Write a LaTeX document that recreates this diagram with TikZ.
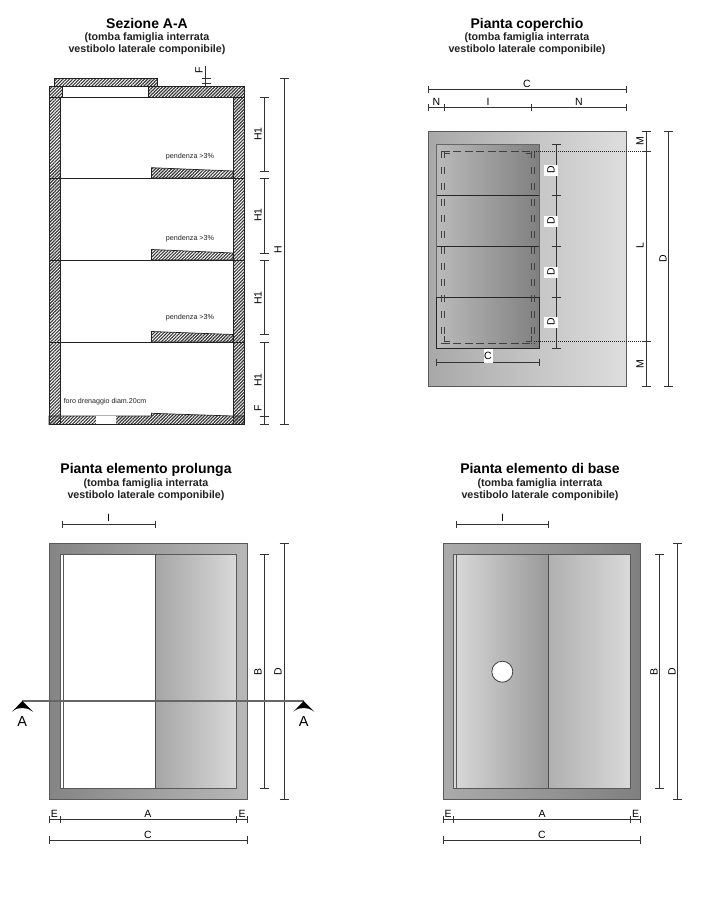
\documentclass[tikz,border=0pt]{standalone}
\usepackage{fontspec}
\setmainfont{Liberation Sans}
\usetikzlibrary{patterns.meta}
\definecolor{ink}{HTML}{222222}
\definecolor{dimc}{HTML}{333333}
\tikzset{
  hatch/.style={draw=ink,line width=.7pt,pattern={Lines[angle=45,distance=2.3pt,line width=1.15pt]},pattern color=black!78},
  dimline/.style={draw=dimc,line width=.95pt},
  ttl/.style={font=\fontsize{14}{14}\selectfont\bfseries,text=black,inner sep=0pt},
  subttl/.style={font=\fontsize{10.7}{11}\selectfont\bfseries,text=ink,inner sep=0pt},
  lab/.style={font=\fontsize{10.5}{11}\selectfont,text=black,inner sep=0pt},
  vlab/.style={lab,rotate=90},
  wlab/.style={vlab,fill=white,minimum width=11pt,minimum height=14pt},
  note/.style={font=\fontsize{7.2}{8}\selectfont,text=ink,inner sep=0pt},
  wall/.style={draw=ink,line width=.8pt},
  planedge/.style={draw=black!65,line width=.9pt},
  dash1/.style={draw=black!75,line width=.95pt,dash pattern=on 8pt off 3.5pt},
  dash2/.style={draw=black!75,line width=.95pt,dash pattern=on 7pt off 9pt},
  dotl/.style={draw=ink,line width=.9pt,dash pattern=on 1pt off 1pt},
  cutline/.style={draw=black!60,line width=1.3pt},
  cuthead/.style={fill=black,draw=none},
}
% horizontal / vertical dimension lines with end ticks
\newcommand{\hdim}[4][3.5]{\draw[dimline] (#2,#4) -- (#3,#4);\draw[dimline] (#2,#4-#1) -- (#2,#4+#1) (#3,#4-#1) -- (#3,#4+#1);}
\newcommand{\vdim}[4][4.5]{\draw[dimline] (#4,#2) -- (#4,#3);\draw[dimline] (#4-#1,#2) -- (#4+#1,#2) (#4-#1,#3) -- (#4+#1,#3);}
\begin{document}
\begin{tikzpicture}[x=1pt,y=-1pt]
\useasboundingbox (0,0) rectangle (705,900);
\fill[white] (0,0) rectangle (705,900);

% ---------- titles
\node[ttl] (t1) at (147,23) {Sezione A-A};
\node[subttl] (t1a) at (147,37.5) {(tomba famiglia interrata};
\node[subttl] (t1b) at (147,49.5) {vestibolo laterale componibile)};
\node[ttl] (t2) at (527,24.8) {Pianta coperchio};
\node[subttl] (t2a) at (527,37.5) {(tomba famiglia interrata};
\node[subttl] (t2b) at (527,49.5) {vestibolo laterale componibile)};
\node[ttl] (t3) at (146,470) {Pianta elemento prolunga};
\node[subttl] (t3a) at (146,483.5) {(tomba famiglia interrata};
\node[subttl] (t3b) at (146,495.5) {vestibolo laterale componibile)};
\node[ttl] (t4) at (540,468) {Pianta elemento di base};
\node[subttl] (t4a) at (540,483.5) {(tomba famiglia interrata};
\node[subttl] (t4b) at (540,495.5) {vestibolo laterale componibile)};

% ---------- Sezione A-A
\path[hatch] (54.3,78.7) rectangle (157,86);
\path[hatch] (49,86) rectangle (62.7,97);
\path[hatch] (148.7,86) rectangle (244,97);
\path[hatch] (49,97) rectangle (60,424.5);
\path[hatch] (233,97) rectangle (244,424.5);
\draw[wall] (62.7,97) -- (148.7,97);
\path[hatch] (151.5,167.7) -- (233,171) -- (233,178) -- (151.5,178) -- cycle;
\path[hatch] (151.5,249.5) -- (233,253) -- (233,260) -- (151.5,260) -- cycle;
\path[hatch] (151.5,331.5) -- (233,334.5) -- (233,342) -- (151.5,342) -- cycle;
\path[hatch] (49,416) -- (151.5,416) -- (151.5,413.3) -- (233,416) -- (244,416) -- (244,424.5) -- (49,424.5) -- cycle;
\fill[white] (95.7,416.3) rectangle (115.7,424.2);
\draw[wall] (49,178) -- (244,178) (49,260) -- (244,260) (49,342) -- (244,342);
\node[note] (p1) at (190,157) {pendenza >3\%};
\node[note] (p2) at (190,239) {pendenza >3\%};
\node[note] (p3) at (190,318) {pendenza >3\%};
\node[note,font=\fontsize{7.1}{8}\selectfont] (foro) at (105,402) {foro drenaggio diam.20cm};

\draw[dimline] (205.5,66) -- (205.5,86);
\draw[dimline] (201.5,78.7) -- (210.5,78.7) (201.5,83) -- (210.5,83);
\node[vlab] (fa) at (199,70) {F};
\vdim{97}{171}{264}
\vdim{178}{253}{264}
\vdim{260}{334}{264}
\vdim{342}{416.5}{264}
\vdim{416.5}{424.5}{264}
\node[vlab] (h1a) at (258,134) {H1};
\node[vlab] (h1b) at (258,215) {H1};
\node[vlab] (h1c) at (258,298) {H1};
\node[vlab] (h1d) at (258,380) {H1};
\node[vlab] (fb) at (258,408) {F};
\vdim{78.7}{424.5}{284}
\node[vlab] (hh) at (278,250) {H};

% ---------- Pianta coperchio
\shade[left color=black!34,right color=black!13] (428.5,131.7) rectangle (626,386.7);
\draw[planedge] (428.5,131.7) rectangle (626,386.7);
\shade[left color=black!27,right color=black!50] (436.7,144) rectangle (539.3,348.7);
\draw[planedge,draw=black!60] (436.7,144) rectangle (539.3,297.7);
\draw[draw=black!85,line width=1pt] (436.7,297.7) rectangle (539.3,348.7);
\draw[draw=black!85,line width=.8pt] (436.7,195.7) -- (539.3,195.7) (436.7,246.3) -- (539.3,246.3);
\draw[dash1] (441.7,151) -- (534.3,151);
\draw[dash1] (441.7,343.5) -- (534.3,343.5);
\draw[draw=black!75,line width=.95pt] (444.7,158) -- (444.7,153) -- (450,153) (531.3,158) -- (531.3,153) -- (526,153);
\draw[draw=black!75,line width=.95pt] (444.7,336) -- (444.7,341) -- (450,341) (531.3,336) -- (531.3,341) -- (526,341);
\foreach \xx in {441.7,444.7,531.3,534.3}{
  \draw[dash2] (\xx,151) -- (\xx,343.5);
}
\draw[dotl] (534.3,151.7) -- (650.5,151.7);
\draw[dotl] (534.3,341) -- (650.5,341);

\vdim{144}{195.7}{556}
\vdim{195.7}{246.3}{556}
\vdim{246.3}{297.7}{556}
\vdim{297.7}{348.7}{556}
\node[wlab] (da) at (551,170) {D};
\node[wlab] (db) at (551,221) {D};
\node[wlab] (dc) at (551,272) {D};
\node[wlab] (dd) at (551,322) {D};
\hdim{436.7}{539.3}{362}
\node[lab,fill=white,minimum width=9pt,minimum height=14pt] (cc) at (488,356) {C};

\hdim[3.5]{428.5}{626}{89.7}
\node[lab] (ca) at (527,84) {C};
\draw[dimline] (428.5,107.3) -- (626,107.3);
\draw[dimline] (428.5,103.5) -- (428.5,111) (444.7,103.5) -- (444.7,111) (531.7,103.5) -- (531.7,111) (626,103.5) -- (626,111);
\node[lab] (na) at (436.5,102) {N};
\node[lab] (ia) at (488,102) {I};
\node[lab] (nb) at (579,102) {N};

\vdim{131.7}{386.7}{646}
\draw[dimline] (641.5,151.7) -- (650.5,151.7) (641.5,341) -- (650.5,341);
\node[vlab] (ma) at (640,141.5) {M};
\node[vlab] (ll) at (640,246) {L};
\node[vlab] (mb) at (640,364) {M};
\vdim{131.7}{386.7}{668}
\node[vlab] (dl) at (663,259) {D};

% ---------- Pianta elemento prolunga
\shade[left color=black!48,right color=black!28] (49.5,543.3) rectangle (247.5,799);
\draw[planedge] (49.5,543.3) rectangle (247.5,799);
\fill[white] (60,554) rectangle (155,788.7);
\shade[left color=black!35,right color=black!15] (155,554) rectangle (236.7,788.7);
\draw[planedge] (60,554) rectangle (236.7,788.7);
\draw[draw=black!65,line width=.8pt] (63,554) -- (63,788.7);
\draw[draw=black!70,line width=1pt] (155,554) -- (155,788.7);
\hdim{62.7}{155}{524}
\node[lab] (ib) at (108.5,518) {I};
\vdim{554}{788.7}{264}
\vdim{543.3}{799}{284}
\node[vlab] (bb) at (258,672) {B};
\node[vlab] (dp) at (278,672) {D};
\hdim{49.5}{60}{819.7}
\hdim{60}{236.7}{819.7}
\hdim{236.7}{247.5}{819.7}
\hdim[4]{49.5}{247.5}{840}
\node[lab] (ea) at (54.5,814) {E};
\node[lab] (aa) at (148,814) {A};
\node[lab] (eb) at (242,814) {E};
\node[lab] (cd) at (148,834.5) {C};
% section line A-A
\draw[cutline] (22.3,701) -- (303.7,701);
\fill[cuthead] (22.3,701) -- (33,711.7) .. controls (28,708.5) and (26,708) .. (22.3,708) .. controls (18.5,708) and (16,708.5) .. (12,711.7) -- cycle;
\fill[cuthead] (303.7,701) -- (314.4,711.7) .. controls (309.4,708.5) and (307.4,708) .. (303.7,708) .. controls (299.9,708) and (297.4,708.5) .. (293.4,711.7) -- cycle;
\node[lab,font=\fontsize{14.5}{15}\selectfont] (sa) at (22.3,722) {A};
\node[lab,font=\fontsize{14.5}{15}\selectfont] (sb) at (303.7,722) {A};

% ---------- Pianta elemento di base
\shade[left color=black!33,right color=black!50] (443,543.3) rectangle (640.7,799);
\draw[planedge] (443,543.3) rectangle (640.7,799);
\shade[left color=black!15,right color=black!40] (453.5,554) rectangle (548.7,788.7);
\shade[left color=black!31,right color=black!15] (548.7,554) rectangle (630.3,788.7);
\draw[planedge] (453.5,554) rectangle (630.3,788.7);
\draw[draw=black!65,line width=.8pt] (456.7,554) -- (456.7,788.7);
\draw[draw=black!70,line width=1pt] (548.7,554) -- (548.7,788.7);
\draw[draw=black!75,fill=white,line width=.8pt] (502.3,671.7) circle (10.5);
\hdim{456.3}{548.5}{524}
\node[lab] (ic) at (502.5,518) {I};
\vdim{554}{788.7}{659.7}
\vdim{543.3}{799}{677.5}
\node[vlab] (bc) at (654,672) {B};
\node[vlab] (de) at (672,672) {D};
\hdim{443}{453.5}{819.7}
\hdim{453.5}{630.3}{819.7}
\hdim{630.3}{640.7}{819.7}
\hdim[4]{443}{640.7}{840}
\node[lab] (ec) at (448,814) {E};
\node[lab] (ab) at (542,814) {A};
\node[lab] (ed) at (635.5,814) {E};
\node[lab] (ce) at (542,834.5) {C};
\end{tikzpicture}
\end{document}
